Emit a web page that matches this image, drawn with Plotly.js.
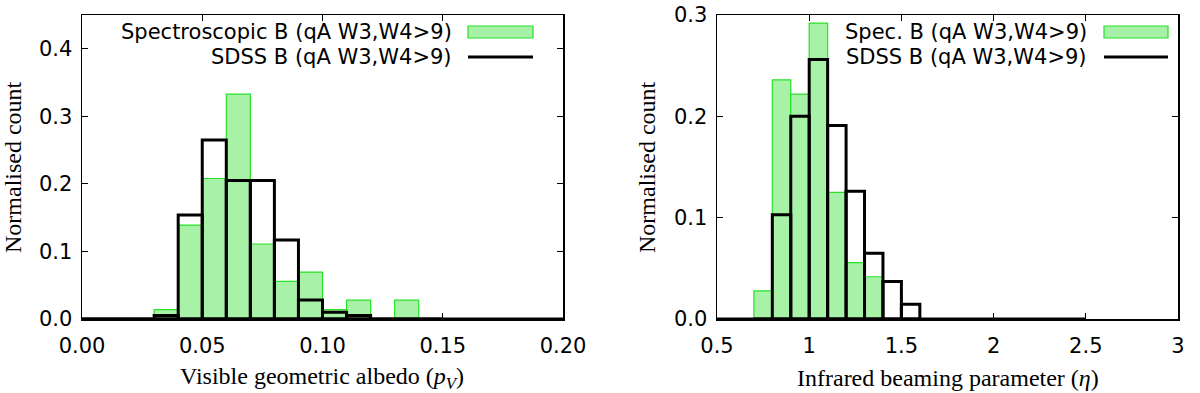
<!DOCTYPE html>
<html>
<head>
<meta charset="utf-8">
<script src="https://cdn.plot.ly/plotly-3.0.1.min.js"></script>
<style>
  body { margin: 0; background: #fff; }
  #plot { width: 1200px; height: 393px; }
</style>
</head>
<body>
<div id="plot"></div>
<script>
// left panel: visible geometric albedo, bins of 0.01
var albedoBinLeft = [0.00, 0.01, 0.02, 0.03, 0.04, 0.05, 0.06, 0.07, 0.08, 0.09, 0.10, 0.11, 0.12, 0.13, 0.14];
var albedoSpec    = [0, 0, 0, 0.0139, 0.139, 0.208, 0.333, 0.111, 0.0556, 0.0694, 0.0139, 0.0278, 0, 0.0278, 0];
var albedoSdss    = [0, 0, 0, 0.005, 0.154, 0.265, 0.205, 0.205, 0.117, 0.028, 0.010, 0.005, 0, 0, 0];
var albedoBinW = 0.01;
var albedoSdssSpan = [0.0, 0.2];

// right panel: infrared beaming parameter, bins of 0.1
var etaBinLeft = [0.7, 0.8, 0.9, 1.0, 1.1, 1.2, 1.3, 1.4, 1.5];
var etaSpec    = [0.0278, 0.236, 0.222, 0.292, 0.125, 0.0556, 0.0417, 0, 0];
var etaSdss    = [0, 0.103, 0.200, 0.256, 0.191, 0.126, 0.065, 0.037, 0.0145];
var etaBinW = 0.1;
var etaSdssSpan = [0.5, 2.5];

var specName = ['Spectroscopic B (qA W3,W4>9)', 'Spec. B (qA W3,W4>9)'];
var sdssName = 'SDSS B (qA W3,W4>9)';

var fillGreen = 'rgb(168,242,168)';
var edgeGreen = 'rgb(40,225,40)';

function centres(edges, w) { return edges.map(function (e) { return e + w / 2; }); }

function specTrace(edges, vals, w, xa, ya) {
  return {
    type: 'bar', x: centres(edges, w), y: vals, width: w,
    xaxis: xa, yaxis: ya,
    marker: { color: fillGreen, line: { color: edgeGreen, width: 1.2 } },
    showlegend: false, hoverinfo: 'x+y'
  };
}
function sdssTrace(edges, vals, w, xa, ya) {
  return {
    type: 'bar', x: centres(edges, w), y: vals, width: w,
    xaxis: xa, yaxis: ya,
    marker: { color: 'rgba(0,0,0,0)', line: { color: 'black', width: 3 } },
    showlegend: false, hoverinfo: 'x+y'
  };
}
function baseline(span, xa, ya) {
  return {
    type: 'scatter', mode: 'lines', x: span, y: [0, 0],
    xaxis: xa, yaxis: ya,
    line: { color: 'black', width: 3 }, showlegend: false, hoverinfo: 'skip'
  };
}

var data = [
  specTrace(albedoBinLeft, albedoSpec, albedoBinW, 'x', 'y'),
  baseline(albedoSdssSpan, 'x', 'y'),
  sdssTrace(albedoBinLeft, albedoSdss, albedoBinW, 'x', 'y'),
  specTrace(etaBinLeft, etaSpec, etaBinW, 'x2', 'y2'),
  baseline(etaSdssSpan, 'x2', 'y2'),
  sdssTrace(etaBinLeft, etaSdss, etaBinW, 'x2', 'y2')
];

var tickFont = { family: 'DejaVu Sans', size: 21, color: 'black' };
var legendFont = { family: 'DejaVu Sans', size: 21, color: 'black' };
var titleFont = { family: 'Liberation Serif', size: 24, color: 'black' };

function axis(extra) {
  var a = {
    showline: true, linecolor: 'black', linewidth: 1.5, mirror: 'ticks',
    ticks: 'inside', ticklen: 6, tickwidth: 1, tickcolor: 'black',
    showgrid: false, zeroline: false, tickfont: tickFont
  };
  for (var k in extra) a[k] = extra[k];
  return a;
}

var yTop = 1 - 15 / 393, yBot = 1 - 319 / 393;

var layout = {
  width: 1200, height: 393,
  margin: { l: 0, r: 0, t: 0, b: 0 },
  paper_bgcolor: 'white', plot_bgcolor: 'white',
  barmode: 'overlay', bargap: 0,
  showlegend: false,
  xaxis: axis({ domain: [82 / 1200, 563 / 1200], range: [0, 0.2], tickvals: [0, 0.05, 0.1, 0.15, 0.2], tickformat: '.2f', anchor: 'y', ticklabelstandoff: 7 }),
  yaxis: axis({ domain: [yBot, yTop], range: [0, 0.45], tickvals: [0, 0.1, 0.2, 0.3, 0.4], tickformat: '.1f', anchor: 'x', ticklabelstandoff: 4 }),
  xaxis2: axis({ domain: [717 / 1200, 1178 / 1200], range: [0.5, 3], tickvals: [0.5, 1, 1.5, 2, 2.5, 3], anchor: 'y2', ticklabelstandoff: 7 }),
  yaxis2: axis({ domain: [yBot, yTop], range: [0, 0.3], tickvals: [0, 0.1, 0.2, 0.3], tickformat: '.1f', anchor: 'x2', ticklabelstandoff: 4 }),
  annotations: [
    { xref: 'paper', yref: 'paper', x: 322 / 1200, y: 1 - 378 / 393, text: 'Visible geometric albedo (<i>p</i><sub><i>V</i></sub>)',
      showarrow: false, font: titleFont, xanchor: 'center', yanchor: 'middle' },
    { xref: 'paper', yref: 'paper', x: 13 / 1200, y: 1 - 167 / 393, text: 'Normalised count', textangle: -90,
      showarrow: false, font: titleFont, xanchor: 'center', yanchor: 'middle' },
    { xref: 'paper', yref: 'paper', x: 948 / 1200, y: 1 - 378 / 393, text: 'Infrared beaming parameter (<i>η</i>)',
      showarrow: false, font: titleFont, xanchor: 'center', yanchor: 'middle' },
    { xref: 'paper', yref: 'paper', x: 647 / 1200, y: 1 - 167 / 393, text: 'Normalised count', textangle: -90,
      showarrow: false, font: titleFont, xanchor: 'center', yanchor: 'middle' },
    // legend texts
    { xref: 'paper', yref: 'paper', x: 454 / 1200, y: 1 - 32 / 393, text: specName[0],
      showarrow: false, font: legendFont, xanchor: 'right', yanchor: 'middle' },
    { xref: 'paper', yref: 'paper', x: 454 / 1200, y: 1 - 57 / 393, text: sdssName,
      showarrow: false, font: legendFont, xanchor: 'right', yanchor: 'middle' },
    { xref: 'paper', yref: 'paper', x: 1089 / 1200, y: 1 - 32 / 393, text: specName[1],
      showarrow: false, font: legendFont, xanchor: 'right', yanchor: 'middle' },
    { xref: 'paper', yref: 'paper', x: 1089 / 1200, y: 1 - 57 / 393, text: sdssName,
      showarrow: false, font: legendFont, xanchor: 'right', yanchor: 'middle' }
  ],
  shapes: [
    // legend samples
    { type: 'rect', xref: 'paper', yref: 'paper', x0: 468 / 1200, x1: 533 / 1200, y0: 1 - 38 / 393, y1: 1 - 26 / 393,
      fillcolor: fillGreen, line: { color: edgeGreen, width: 1.2 } },
    { type: 'line', xref: 'paper', yref: 'paper', x0: 468 / 1200, x1: 533 / 1200, y0: 1 - 57 / 393, y1: 1 - 57 / 393,
      line: { color: 'black', width: 3 } },
    { type: 'rect', xref: 'paper', yref: 'paper', x0: 1104 / 1200, x1: 1168 / 1200, y0: 1 - 38 / 393, y1: 1 - 26 / 393,
      fillcolor: fillGreen, line: { color: edgeGreen, width: 1.2 } },
    { type: 'line', xref: 'paper', yref: 'paper', x0: 1104 / 1200, x1: 1168 / 1200, y0: 1 - 57 / 393, y1: 1 - 57 / 393,
      line: { color: 'black', width: 3 } }
  ]
};

Plotly.newPlot('plot', data, layout, { displayModeBar: false, staticPlot: true });
</script>
</body>
</html>
